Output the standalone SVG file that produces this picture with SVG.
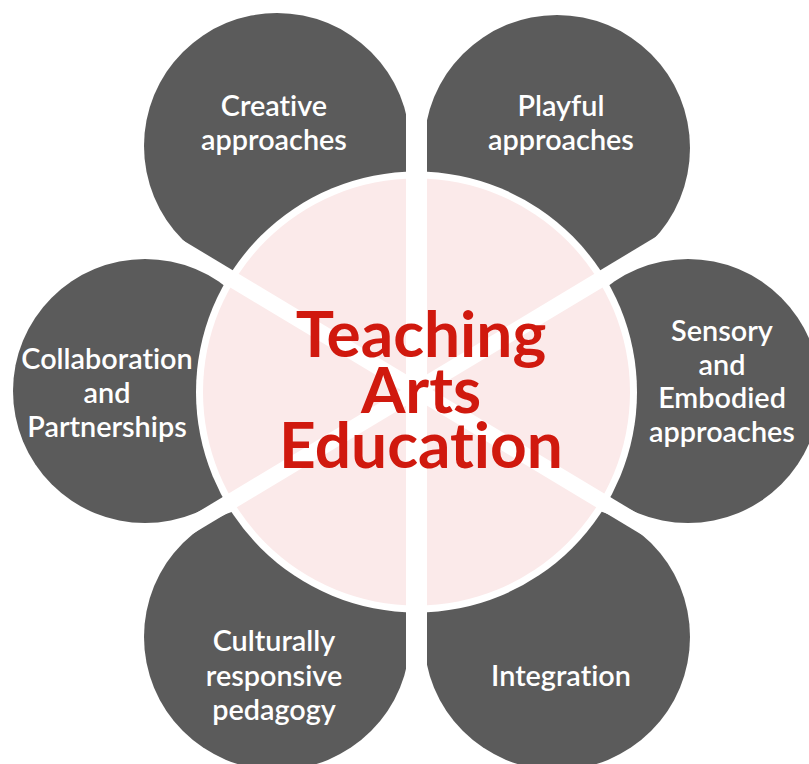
<svg xmlns="http://www.w3.org/2000/svg" width="809" height="764" viewBox="0 0 809 764">
  <style>
    .petal { fill: #5b5b5b; }
    .label { font-family: Lato, "Open Sans", "Liberation Sans", sans-serif; font-size: 28.8px; font-weight: 600; fill: #ffffff; text-anchor: middle; font-variant-ligatures: none; }
    .title { font-family: Lato, "Open Sans", "Liberation Sans", sans-serif; font-size: 64px; font-weight: 700; fill: #d0190e; text-anchor: middle; font-variant-ligatures: none; }
    .gap { fill: #ffffff; }
  </style>
  <rect width="809" height="764" fill="#ffffff"/>

  <!-- outer petals -->
  <g id="creative">
    <circle class="petal" cx="277" cy="146" r="133"/>
    <text class="label" x="274" y="116">Creative</text>
    <text class="label" x="274" y="150">approaches</text>
  </g>
  <g id="playful">
    <circle class="petal" cx="557" cy="148" r="133"/>
    <text class="label" x="561" y="116">Playful</text>
    <text class="label" x="561" y="150">approaches</text>
  </g>
  <g id="collaboration">
    <circle class="petal" cx="145" cy="391" r="132"/>
    <text class="label" x="107" y="369">Collaboration</text>
    <text class="label" x="107" y="403">and</text>
    <text class="label" x="107" y="437">Partnerships</text>
  </g>
  <g id="sensory">
    <circle class="petal" cx="688" cy="391" r="132"/>
    <text class="label" x="722" y="341">Sensory</text>
    <text class="label" x="722" y="375">and</text>
    <text class="label" x="722" y="408">Embodied</text>
    <text class="label" x="722" y="442">approaches</text>
  </g>
  <g id="culturally-responsive">
    <circle class="petal" cx="277" cy="637" r="133"/>
    <text class="label" x="274" y="651">Culturally</text>
    <text class="label" x="274" y="686">responsive</text>
    <text class="label" x="274" y="720">pedagogy</text>
  </g>
  <g id="integration">
    <circle class="petal" cx="557" cy="637" r="133"/>
    <text class="label" x="561" y="686">Integration</text>
  </g>

  <!-- central hub with its white rim -->
  <g id="hub-base">
    <circle cx="416.5" cy="392" r="220.5" fill="#ffffff"/>
    <circle cx="416.5" cy="392" r="213.5" fill="#fbeaea"/>
  </g>

  <!-- white dividers between the six segments -->
  <g id="dividers">
    <rect class="gap" x="406" y="0" width="21" height="764"/>
    <rect class="gap" x="-600" y="-8" width="1200" height="16" transform="translate(416.5 390) rotate(-31)"/>
    <rect class="gap" x="-600" y="-8" width="1200" height="16" transform="translate(416.5 390) rotate(31)"/>
  </g>

  <g id="teaching-arts-education">
    <text class="title" x="421" y="357">Teaching</text>
    <text class="title" x="421" y="413">Arts</text>
    <text class="title" x="421" y="468">Education</text>
  </g>
</svg>
